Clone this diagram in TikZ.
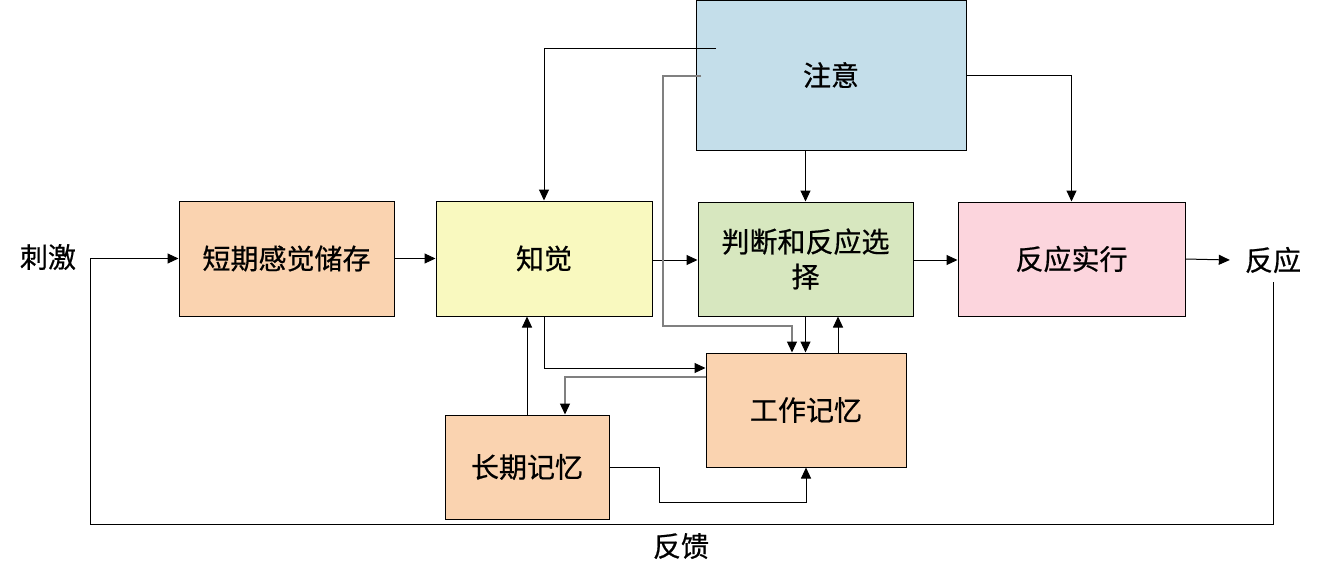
\documentclass[tikz,border=0pt]{standalone}
\usepackage{fontspec}
\newfontfamily\cjk{Noto Sans CJK SC}[FakeBold=0.6]
\usetikzlibrary{arrows.meta}
\definecolor{attnblue}{HTML}{C4DEEA}
\definecolor{peach}{HTML}{FAD3B0}
\definecolor{lightyel}{HTML}{F9F9BF}
\definecolor{lightgrn}{HTML}{D7E7BF}
\definecolor{lightpnk}{HTML}{FCD5DD}

\begin{document}
\begin{tikzpicture}[x=1pt,y=-1pt,
    blk/.style={draw,line width=1pt,align=center,font=\cjk\fontsize{28}{35}\selectfont},
    lbl/.style={inner sep=2pt,font=\cjk\fontsize{28}{35}\selectfont},
    arr/.style={-{Triangle[length=11pt,width=10pt,black]},line width=1pt},
    garr/.style={arr,draw=gray,line width=1.3pt}]
  \useasboundingbox (0,0) rectangle (1321,579);
  \node[blk,fill=attnblue,minimum width=270pt,minimum height=150pt] (attn) at (831,75) {注意};
  \node[blk,fill=peach,minimum width=215pt,minimum height=115pt] (stss) at (286.5,258.5) {短期感觉储存};
  \node[blk,fill=lightyel,minimum width=216pt,minimum height=115pt] (percept) at (544,258.5) {知觉};
  \node[blk,fill=lightgrn,minimum width=215pt,minimum height=114pt] (select) at (805.5,259) {判断和反应选\\择};
  \node[blk,fill=lightpnk,minimum width=227pt,minimum height=114pt] (exec) at (1071.5,259) {反应实行};
  \node[blk,fill=peach,minimum width=200pt,minimum height=114pt] (wm) at (806,410) {工作记忆};
  \node[blk,fill=peach,minimum width=164pt,minimum height=104pt] (ltm) at (527,467) {长期记忆};
  \node[lbl] (stim) at (48,257) {刺激};
  \node[lbl,inner xsep=15pt,inner ysep=9pt] (resp) at (1273,260) {反应};
  \node[lbl] (fbk) at (681,546) {反馈};
  \coordinate (a1) at (716,48);
  \coordinate (a2) at (701,76);
  % main line
  \draw[arr] (stss.east) -- (percept.west |- stss.east);
  \draw[arr] (percept.east |- 0,260) -- (select.west |- 0,260);
  \draw[arr] (select.east |- 0,260) -- (exec.west |- 0,260);
  \draw[arr] (exec.east) -- (resp.west);
  \draw[arr] (resp.south) |- (90,524) |- (stss.west);
  % attention
  \draw[arr] (a1) -| (percept.north);
  \draw[garr] (a2) -| (663,326) -| ([xshift=-14pt]wm.north);
  \draw[arr] (attn.south -| select.north) -- (select.north);
  \draw[arr] (attn.east) -| (exec.north);
  % memory
  \draw[arr] (select.south) -- (select.south |- wm.north);
  \draw[arr] ([xshift=32pt]wm.north) -- ([xshift=32pt]wm.north |- select.south);
  \draw[arr] (percept.south) |- (wm.west |- 0,368);
  \draw[garr] (wm.west |- 0,377) -| ([xshift=38pt]ltm.north);
  \draw[arr] (ltm.north) -- (ltm.north |- percept.south);
  \draw[arr] (ltm.east) -| (659,502) -| (wm.south);
\end{tikzpicture}
\end{document}
